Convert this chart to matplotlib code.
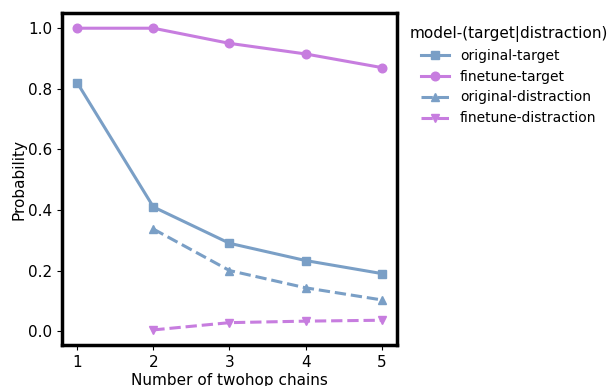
import numpy as np
import matplotlib
matplotlib.use("Agg")
import matplotlib.pyplot as plt

# Données
chaines = [1, 2, 3, 4, 5]
original_target = [0.82, 0.41, 0.29, 0.233, 0.19]
finetune_target = [1.0, 1.0, 0.95, 0.915, 0.87]
original_distraction = [np.nan, 0.337, 0.2, 0.143, 0.103]
finetune_distraction = [np.nan, 0.004, 0.028, 0.033, 0.036]

bleu = '#7a9fc6'
violet = '#c77ddf'

fig = plt.figure(figsize=(6.16, 3.86), dpi=100)
ax = fig.add_axes([0.1006, 0.1062, 0.5439, 0.8598])

ax.plot(chaines, original_target, color=bleu, marker='s', lw=2.2, ms=6.2, label='original-target')
ax.plot(chaines, finetune_target, color=violet, marker='o', lw=2.2, ms=6.2, label='finetune-target')
ax.plot(chaines, original_distraction, color=bleu, marker='^', lw=2.2, ms=6.2, ls='--', label='original-distraction')
ax.plot(chaines, finetune_distraction, color=violet, marker='v', lw=2.2, ms=6.2, ls='--', label='finetune-distraction')

ax.set_xticks(chaines)
ax.set_yticks([0.0, 0.2, 0.4, 0.6, 0.8, 1.0])
ax.tick_params(labelsize=11)
ax.set_xlabel('Number of twohop chains', fontsize=11, labelpad=2)
ax.set_ylabel('Probability', fontsize=11, labelpad=1)
for sp in ax.spines.values():
    sp.set_linewidth(2.5)

leg = ax.legend(title='model-(target|distraction)', loc='upper left',
                bbox_to_anchor=(1.0, 1.0), frameon=False, fontsize=10, title_fontsize=11)

fig.savefig('out.png', dpi=100)
